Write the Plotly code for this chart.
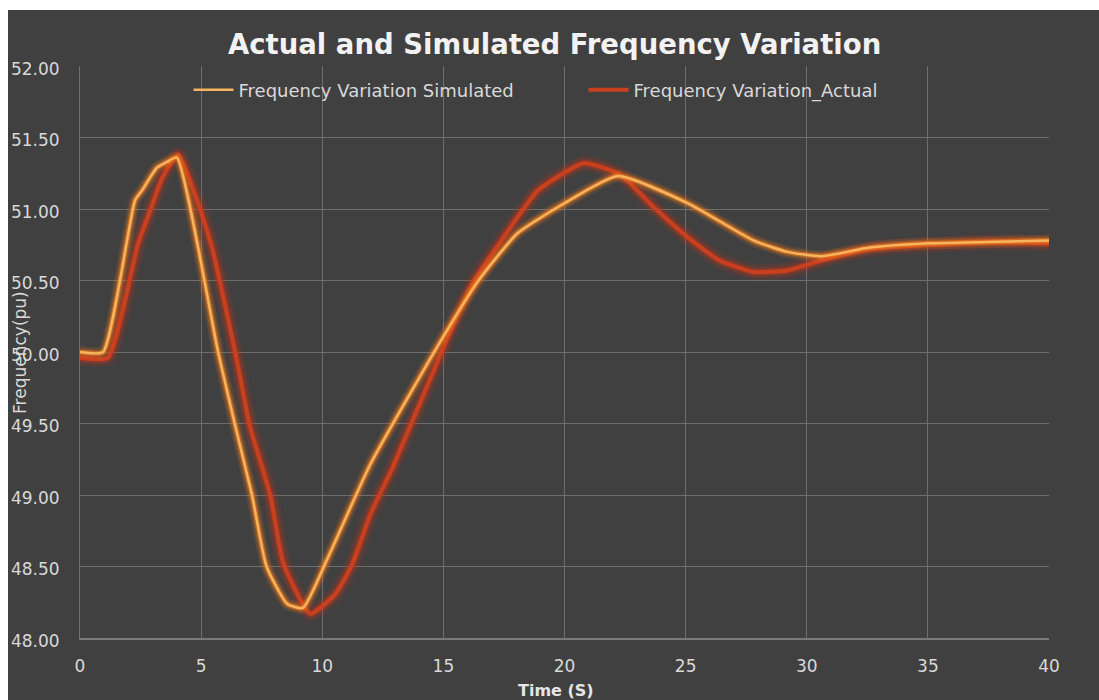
import plotly.graph_objects as go

# Data
time_sim = [0, 0.95, 2.27, 2.56, 3.18, 3.6, 4.0, 5.7, 6.4, 7.1, 7.7, 8.55, 9.2, 10.2, 12.0,
            14.9, 16.45, 18.06, 20.0, 22.2, 25.1, 27.8, 29.2, 30.6, 32.6, 35.1, 37.5, 40]
freq_sim = [50.0, 50.0, 51.06, 51.13, 51.29, 51.33, 51.36, 50.0, 49.49, 49.0, 48.5, 48.24, 48.21, 48.55, 49.22,
            50.08, 50.50, 50.83, 51.04, 51.23, 51.04, 50.78, 50.70, 50.67, 50.73, 50.76, 50.77, 50.78]

time_act = [0, 1.15, 2.4, 2.9, 3.4, 4.05, 5.4, 6.5, 7.0, 7.85, 8.4, 9.5, 10.5, 11.2, 12.0, 12.9,
            14.9, 16.2, 17.6, 18.9, 20.8, 22.3, 23.7, 25.1, 26.4, 27.8, 29.2, 30.6, 32.6, 35.1, 37.5, 40]
freq_act = [49.96, 49.96, 50.76, 50.99, 51.22, 51.38, 50.76, 49.92, 49.49, 49.0, 48.52, 48.17, 48.3, 48.5, 48.87, 49.19,
            49.99, 50.48, 50.83, 51.13, 51.32, 51.24, 51.01, 50.80, 50.64, 50.56, 50.57, 50.64, 50.72, 50.75, 50.77, 50.76]

y_ticks = [48.0, 48.5, 49.0, 49.5, 50.0, 50.5, 51.0, 51.5, 52.0]
x_ticks = [0, 5, 10, 15, 20, 25, 30, 35, 40]

BG = "#404040"
FONT = "DejaVu Sans"
TICKC = "#D9D9D9"

fig = go.Figure()

def add_glow(x, y, color, widths, opac):
    for w, o in zip(widths, opac):
        fig.add_trace(go.Scatter(x=x, y=y, mode="lines", showlegend=False, hoverinfo="skip",
                                 line=dict(color=color, width=w, shape="spline", smoothing=0.5),
                                 opacity=o))

# Actual (red) with glow
add_glow(time_act, freq_act, "#C8361A", [16, 11, 7], [0.12, 0.18, 0.35])
fig.add_trace(go.Scatter(x=time_act, y=freq_act, mode="lines", name="Frequency Variation_Actual",
                         legendrank=2,
                         line=dict(color="#C9401F", width=4, shape="spline", smoothing=0.5)))
# Simulated (orange) with glow
add_glow(time_sim, freq_sim, "#EE7A1E", [12, 8, 5], [0.15, 0.25, 0.6])
fig.add_trace(go.Scatter(x=time_sim, y=freq_sim, mode="lines", name="Frequency Variation Simulated",
                         legendrank=1,
                         line=dict(color="#F6B45E", width=2.5, shape="spline", smoothing=0.5)))

fig.update_layout(
    width=1099, height=700,
    margin=dict(l=80, r=50, t=66, b=62),
    paper_bgcolor="white",
    plot_bgcolor=BG,
    font=dict(family=FONT, color=TICKC, size=17),
    showlegend=True,
    legend=dict(orientation="h", x=0.112, xanchor="left", y=0.958, yanchor="middle",
                bgcolor="rgba(0,0,0,0)", font=dict(size=18, color=TICKC),
                itemwidth=40, entrywidth=340, entrywidthmode="pixels"),
    shapes=[dict(type="rect", xref="paper", yref="paper", x0=-0.0743, x1=1.06, y0=-0.12, y1=1.0979,
                 fillcolor=BG, line=dict(width=0), layer="below")],
    annotations=[
        dict(text="<b>Actual and Simulated Frequency Variation</b>", xref="paper", yref="paper",
             x=0.49, y=1.038, xanchor="center", yanchor="middle", showarrow=False,
             font=dict(size=27.5, color="#F2F2F2", family=FONT)),
        dict(text="<b>Time (S)</b>", xref="paper", yref="paper", x=0.4916, y=-0.091,
             xanchor="center", yanchor="middle", showarrow=False,
             font=dict(size=16, color="#E6E6E6", family=FONT)),
        dict(text="Frequency(pu)", xref="paper", yref="paper", x=-0.062, y=0.5,
             xanchor="center", yanchor="middle", showarrow=False, textangle=-90,
             font=dict(size=17, color=TICKC, family=FONT)),
    ],
)

fig.update_xaxes(range=[0, 40], tickvals=x_ticks, ticktext=[str(v) for v in x_ticks],
                 showgrid=True, gridcolor="#6E6E6E", gridwidth=1,
                 showline=True, linecolor="#7A7A7A", linewidth=2, zeroline=False,
                 ticks="", ticklabelstandoff=12, tickfont=dict(size=17, color=TICKC))
fig.update_yaxes(range=[48, 52], tickvals=y_ticks, ticktext=[f"{v:.2f}" for v in y_ticks],
                 showgrid=True, gridcolor="#6E6E6E", gridwidth=1,
                 showline=True, linecolor="#6E6E6E", linewidth=1, zeroline=False,
                 ticks="", ticklabelstandoff=16, ticklabelshift=3,
                 tickfont=dict(size=17, color=TICKC))

fig.write_html("out.html")
